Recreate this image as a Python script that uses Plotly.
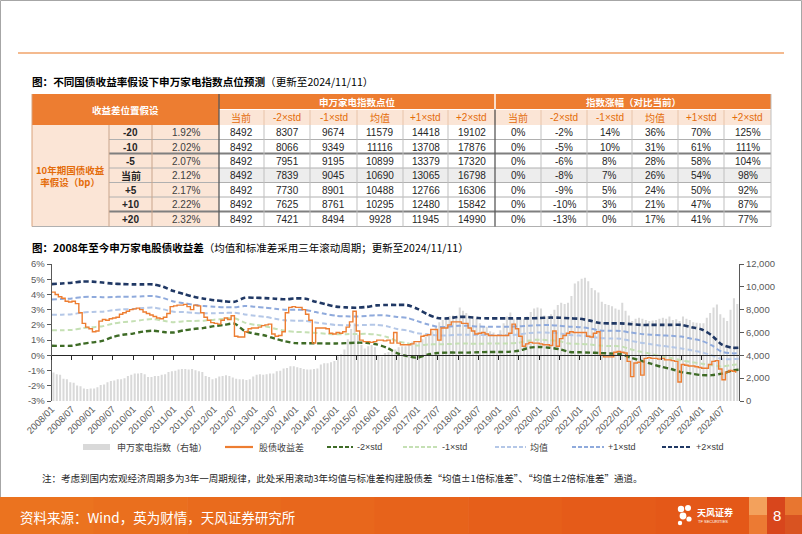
import plotly.graph_objects as go
import pandas as pd

W, H = 802, 534
def px(x): return x / W
def py(y): return 1 - y / H

FONT = "Liberation Sans, Noto Sans CJK SC, sans-serif"
CJK = "Noto Sans CJK SC, sans-serif"

# ---------------- table data ----------------
header_left = "收益差位置假设"
header_mid = "申万家电指数点位"
header_right = "指数涨幅（对比当前）"
row_group_label = "10年期国债收益<br>率假设（bp）"
bp_labels = ["-20", "-10", "-5", "当前", "+5", "+10", "+20"]
yield_labels = ["1.92%", "2.02%", "2.07%", "2.12%", "2.17%", "2.22%", "2.32%"]
col_labels = ["当前", "-2×std", "-1×std", "均值", "+1×std", "+2×std"]
index_points = [
    [8492, 8307, 9674, 11579, 14418, 19102],
    [8492, 8066, 9349, 11116, 13708, 17876],
    [8492, 7951, 9195, 10899, 13379, 17320],
    [8492, 7839, 9045, 10690, 13065, 16798],
    [8492, 7730, 8901, 10488, 12766, 16306],
    [8492, 7625, 8761, 10295, 12480, 15842],
    [8492, 7421, 8494, 9928, 11945, 14990],
]
index_change = [
    ["0%", "-2%", "14%", "36%", "70%", "125%"],
    ["0%", "-5%", "10%", "31%", "61%", "111%"],
    ["0%", "-6%", "8%", "28%", "58%", "104%"],
    ["0%", "-8%", "7%", "26%", "54%", "98%"],
    ["0%", "-9%", "5%", "24%", "50%", "92%"],
    ["0%", "-10%", "3%", "21%", "47%", "87%"],
    ["0%", "-13%", "0%", "17%", "41%", "77%"],
]

# ---------------- chart data ----------------
months = pd.date_range("2008-01-01", "2024-11-01", freq="MS").strftime("%Y-%m").tolist()

spread_2008 = [4.15, 4.0, 3.85, 3.75, 3.55, 3.5, 3.55, 3.4, 2.8, 2.1, 1.85, 1.75]
spread_2009 = [1.55, 1.6, 2.25, 2.35, 2.3, 2.4, 2.45, 2.5, 2.7, 2.8, 2.9, 3.0]
spread_2010 = [3.05, 3.1, 3.0, 2.85, 2.75, 2.65, 2.55, 2.45, 2.4, 2.5, 2.75, 3.2]
spread_2011 = [3.25, 3.3, 3.3, 3.35, 3.2, 3.0, 3.3, 3.25, 2.8, 2.5, 2.3, 2.15]
spread_2012 = [2.1, 2.05, 2.3, 2.45, 2.35, 2.6, 1.25, 1.2, 1.2, 1.55, 1.75, 1.8]
spread_2013 = [1.8, 1.85, 1.95, 2.0, 2.05, 1.4, 1.25, 1.3, 1.55, 2.8, 3.15, 3.2]
spread_2014 = [3.15, 3.15, 3.0, 2.7, 2.3, 0.8, 1.8, 1.8, 1.8, 1.75, 1.45, 1.4]
spread_2015 = [1.5, 1.45, 1.55, 1.85, 2.2, 2.9, 1.6, 1.0, 0.9, 0.9, 0.85, 0.9]
spread_2016 = [1.0, 1.0, 0.95, 1.0, 0.8, 1.5, 0.8, 0.7, 0.7, 0.7, 0.75, 0.9]
spread_2017 = [0.9, 1.25, 1.3, 1.35, 1.7, 1.7, 1.0, 1.8, 1.8, 2.0, 2.2, 2.2]
spread_2018 = [2.2, 2.1, 2.1, 1.8, 1.6, 1.4, 1.45, 1.5, 1.4, 1.3, 1.3, 1.3]
spread_2019 = [1.3, 1.3, 1.3, 1.45, 2.05, 1.75, 1.25, 0.6, 0.75, 0.85, 0.8, 0.8]
spread_2020 = [0.75, 0.7, 0.7, 0.65, 1.6, 0.6, 1.1, 1.3, 1.45, 1.55, 1.5, 1.5]
spread_2021 = [1.5, 1.5, 1.25, 1.2, 1.45, 1.55, 0.0, -0.1, -0.1, -0.1, 0.2, 0.25]
spread_2022 = [0.2, 0.15, -0.4, -1.4, -0.5, -0.45, -1.3, -0.2, -0.15, -0.2, -0.2, -0.25]
spread_2023 = [-0.2, -0.3, -0.3, -0.35, -0.4, -1.75, -0.6, -0.65, -0.7, -0.7, -0.75, -0.8]
spread_2024 = [-0.85, -0.85, -0.6, -0.4, -0.35, -0.9, -1.6, -1.1, -1.0, -1.05, -1.15]
spread = (spread_2008 + spread_2009 + spread_2010 + spread_2011 + spread_2012 + spread_2013
          + spread_2014 + spread_2015 + spread_2016 + spread_2017 + spread_2018 + spread_2019
          + spread_2020 + spread_2021 + spread_2022 + spread_2023 + spread_2024)

index_2008 = [2500, 2350, 2300, 1950, 1900, 1650, 1600, 1350, 1300, 1100, 1050, 1100]
index_2009 = [1100, 1200, 1400, 1450, 1650, 1750, 1800, 1900, 1900, 2000, 2200, 2300]
index_2010 = [2400, 2400, 2450, 2350, 2100, 2100, 2200, 2200, 2300, 2350, 2550, 2600]
index_2011 = [2650, 2750, 2800, 2800, 2750, 2800, 2700, 2600, 2550, 2200, 2100, 1900]
index_2012 = [2000, 2150, 2200, 2250, 2200, 2050, 1950, 1900, 1900, 1850, 1900, 2150]
index_2013 = [2300, 2350, 2300, 2350, 2400, 2400, 2600, 2650, 2850, 2900, 3050, 3050]
index_2014 = [2950, 2900, 2800, 2750, 2750, 2800, 2850, 3200, 3300, 3300, 3400, 3500]
index_2015 = [3900, 4100, 4500, 5400, 6300, 6800, 5800, 4900, 4600, 4800, 4900, 4700]
index_2016 = [4000, 3900, 4200, 4300, 4400, 4500, 4700, 4800, 4800, 5000, 5200, 5100]
index_2017 = [5200, 5400, 5600, 5800, 6100, 6500, 6900, 7100, 7200, 7450, 7500, 7400]
index_2018 = [8200, 7900, 7700, 7450, 7400, 7200, 6800, 6500, 6500, 6100, 6000, 5700]
index_2019 = [6200, 6800, 7400, 7750, 7200, 7300, 7300, 7200, 7400, 7800, 8100, 8200]
index_2020 = [8100, 7500, 7450, 7600, 8000, 8400, 8600, 8500, 8600, 9200, 10300, 10500]
index_2021 = [10700, 10800, 10500, 9900, 9700, 9500, 8700, 8500, 8400, 8300, 8100, 8000]
index_2022 = [8600, 7900, 7500, 7000, 7200, 7300, 7200, 7100, 7000, 7050, 7100, 7200]
index_2023 = [7300, 7200, 7400, 7100, 7150, 7000, 7400, 7200, 7100, 6900, 6850, 6800]
index_2024 = [6800, 7300, 7700, 8200, 8450, 7600, 7300, 7000, 8000, 9000, 8500]
index_level = (index_2008 + index_2009 + index_2010 + index_2011 + index_2012 + index_2013
               + index_2014 + index_2015 + index_2016 + index_2017 + index_2018 + index_2019
               + index_2020 + index_2021 + index_2022 + index_2023 + index_2024)

# rolling 3y bands, read quarterly
band_dates = pd.date_range("2008-01-01", periods=68, freq="3MS").strftime("%Y-%m-%d").tolist() + ["2024-11-28"]
band_p2 = [4.68, 4.72, 4.77, 4.85, 4.84, 4.78, 4.71, 4.68, 4.66, 4.66, 4.66, 4.50, 4.22, 4.03, 3.85, 3.72,
           3.62, 3.55, 3.52, 3.78, 3.78, 3.76, 3.72, 3.68, 3.74, 3.72, 3.52, 3.35, 3.20, 3.15, 3.13, 3.18,
           3.28, 3.31, 3.31, 3.30, 3.05, 2.70, 2.45, 2.43, 2.52, 2.52, 2.45, 2.43, 2.43, 2.43, 2.43, 2.43,
           2.45, 2.48, 2.47, 2.43, 2.40, 2.28, 2.12, 2.10, 2.10, 2.05, 2.00, 2.00, 2.00, 2.00, 2.00, 1.85,
           1.70, 1.30, 0.70, 0.50, 0.50]
band_p1 = [3.67, 3.70, 3.74, 3.83, 3.84, 3.82, 3.83, 3.85, 3.85, 3.88, 3.90, 3.76, 3.54, 3.43, 3.32, 3.24,
           3.19, 3.16, 3.16, 3.24, 3.19, 3.14, 3.06, 2.99, 3.00, 2.99, 2.84, 2.71, 2.60, 2.56, 2.55, 2.59,
           2.64, 2.61, 2.52, 2.46, 2.25, 2.04, 1.88, 1.87, 1.94, 1.94, 1.89, 1.88, 1.88, 1.88, 1.90, 1.95,
           1.98, 1.99, 1.95, 1.88, 1.85, 1.76, 1.63, 1.61, 1.60, 1.50, 1.41, 1.36, 1.31, 1.28, 1.23, 1.09,
           0.95, 0.65, 0.23, 0.13, 0.14]
band_mean = [2.66, 2.67, 2.70, 2.81, 2.85, 2.87, 2.96, 3.02, 3.05, 3.11, 3.14, 3.02, 2.86, 2.84, 2.79, 2.76,
             2.77, 2.78, 2.80, 2.69, 2.60, 2.53, 2.41, 2.30, 2.27, 2.26, 2.16, 2.07, 1.99, 1.98, 1.98, 2.00,
             2.00, 1.91, 1.73, 1.63, 1.45, 1.38, 1.30, 1.31, 1.35, 1.35, 1.33, 1.33, 1.33, 1.33, 1.37, 1.47,
             1.50, 1.49, 1.44, 1.33, 1.30, 1.23, 1.14, 1.11, 1.09, 0.95, 0.83, 0.73, 0.63, 0.55, 0.45, 0.33,
             0.20, 0.00, -0.25, -0.25, -0.23]
band_m1 = [1.64, 1.65, 1.67, 1.78, 1.85, 1.91, 2.08, 2.18, 2.24, 2.33, 2.38, 2.27, 2.18, 2.24, 2.26, 2.28,
           2.34, 2.39, 2.44, 2.15, 2.01, 1.92, 1.75, 1.61, 1.54, 1.52, 1.47, 1.42, 1.38, 1.39, 1.40, 1.41,
           1.36, 1.20, 0.94, 0.79, 0.65, 0.71, 0.73, 0.74, 0.77, 0.77, 0.76, 0.77, 0.77, 0.78, 0.83, 0.98,
           1.03, 0.99, 0.92, 0.77, 0.75, 0.71, 0.64, 0.61, 0.59, 0.40, 0.24, 0.09, -0.06, -0.18, -0.33, -0.44,
           -0.55, -0.65, -0.73, -0.63, -0.59]
band_m2 = [0.63, 0.62, 0.63, 0.76, 0.85, 0.95, 1.20, 1.35, 1.43, 1.56, 1.62, 1.53, 1.50, 1.64, 1.73, 1.80,
           1.92, 2.00, 2.08, 1.60, 1.42, 1.30, 1.10, 0.92, 0.80, 0.79, 0.79, 0.78, 0.78, 0.80, 0.83, 0.82,
           0.72, 0.50, 0.15, -0.05, -0.15, 0.05, 0.15, 0.18, 0.18, 0.18, 0.20, 0.22, 0.22, 0.23, 0.30, 0.50,
           0.55, 0.50, 0.40, 0.22, 0.20, 0.18, 0.15, 0.12, 0.08, -0.15, -0.35, -0.55, -0.75, -0.90, -1.10, -1.20,
           -1.30, -1.30, -1.20, -1.00, -0.95]

x_tick_labels = ["2008/01", "2008/07", "2009/01", "2009/07", "2010/01", "2010/07", "2011/01", "2011/07",
                 "2012/01", "2012/07", "2013/01", "2013/07", "2014/01", "2014/07", "2015/01", "2015/07",
                 "2016/01", "2016/07", "2017/01", "2017/07", "2018/01", "2018/07", "2019/01", "2019/07",
                 "2020/01", "2020/07", "2021/01", "2021/07", "2022/01", "2022/07", "2023/01", "2023/07",
                 "2024/01", "2024/07"]
x_tick_vals = [lab.replace("/", "-") + "-01" for lab in x_tick_labels]
y_left_vals = [-3, -2, -1, 0, 1, 2, 3, 4, 5, 6]
y_left_labels = ["-3%", "-2%", "-1%", "0%", "1%", "2%", "3%", "4%", "5%", "6%"]
y_right_vals = [0, 2000, 4000, 6000, 8000, 10000, 12000]
y_right_labels = ["0", "2,000", "4,000", "6,000", "8,000", "10,000", "12,000"]

series_names = ["申万家电指数（右轴）", "股债收益差", "-2×std", "-1×std", "均值", "+1×std", "+2×std"]

# ---------------- styles ----------------
C_ORANGE = "#ED7D31"
C_BAR = "#D9D9D9"
C_M2 = "#3E6B26"
C_M1 = "#C5E0B4"
C_MEAN = "#B4C7E7"
C_P1 = "#8FAADC"
C_P2 = "#203864"
DASH = "5px,3px"

fig = go.Figure()
fig.add_trace(go.Bar(x=months, y=index_level, name=series_names[0], marker=dict(color=C_BAR, line=dict(width=0)),
                     xperiod="M1", xperiodalignment="middle", xaxis="x", yaxis="y", hoverinfo="x+y"))
band_specs = [(band_m2, C_M2, 2.4, series_names[2]), (band_m1, C_M1, 2.0, series_names[3]),
              (band_mean, C_MEAN, 2.0, series_names[4]), (band_p1, C_P1, 2.0, series_names[5]),
              (band_p2, C_P2, 2.6, series_names[6])]
for vals, col, w, nm in band_specs:
    fig.add_trace(go.Scatter(x=band_dates, y=vals, name=nm, mode="lines",
                             line=dict(color=col, width=w, dash=DASH, shape="spline", smoothing=0.8),
                             xaxis="x", yaxis="y2"))
fig.add_trace(go.Scatter(x=months, y=spread, name=series_names[1], mode="lines",
                         line=dict(color=C_ORANGE, width=1.4, shape="hv"),
                         xperiod="M1", xperiodalignment="start", xaxis="x", yaxis="y2"))
# carrier for the zero-line axis
fig.add_trace(go.Scatter(x=[months[0]], y=[None], mode="lines", xaxis="x3", yaxis="y2",
                         showlegend=False, hoverinfo="skip"))

# ---------------- layout geometry ----------------
PX0, PX1 = 51.7, 739.0
PY_TOP, PY_BOT = 264.0, 401.0
ydom = [py(PY_BOT), py(PY_TOP)]
zero_pos = ydom[0] + (0 - (-3)) / 9 * (ydom[1] - ydom[0])
xrange_ = ["2008-01-01", "2024-12-01"]
tickfont = dict(family=FONT, size=9.5, color="#595959")

shapes = []
annotations = []

def rect(x0, y0, x1, y1, fill, lc=None, lw=0):
    shapes.append(dict(type="rect", xref="paper", yref="paper", x0=px(x0), x1=px(x1), y0=py(y1), y1=py(y0),
                       fillcolor=fill, line=dict(width=lw, color=lc or fill)))

def line(x0, y0, x1, y1, color, w=1, dash=None):
    d = dict(color=color, width=w)
    if dash:
        d["dash"] = dash
    shapes.append(dict(type="line", xref="paper", yref="paper", x0=px(x0), x1=px(x1), y0=py(y0), y1=py(y1), line=d))

def text(x, y, s, size=10, color="#262626", anchor="center", family=FONT):
    annotations.append(dict(xref="paper", yref="paper", x=px(x), y=py(y), text=s, showarrow=False,
                            xanchor=anchor, yanchor="middle", font=dict(size=size, color=color, family=family)))

# frame + top orange rule
rect(0.5, 0.5, 801.5, 533.5, "rgba(0,0,0,0)", "#A6A6A6", 1)
line(18, 53, 784, 53, "#F0A36A", 1.5)

# titles
text(30, 81, "<b>图：不同国债收益率假设下申万家电指数点位预测</b>（更新至2024/11/11）", 10.6, "#000000", "left", CJK)
text(30, 247, "<b>图：2008年至今申万家电股债收益差</b>（均值和标准差采用三年滚动周期；更新至2024/11/11）",
     10.5, "#000000", "left", CJK)

# ---------------- table ----------------
col_x = [32, 109, 152, 219, 264, 310, 357, 403, 448, 495, 541, 587, 632, 678, 724, 771]
row_y = [125, 139.5, 153.5, 168, 182.5, 197, 211.5, 226.5]
H_TOP, H_MID = 94, 109.5
T_OR = "#ED7D31"
T_PEACH = "#FBE5D6"
T_TXT_OR = "#E46C0A"

rect(32, H_TOP, 219, 125, T_OR)
rect(219, H_TOP, 495, H_MID, T_OR)
rect(495, H_TOP, 771, H_MID, T_OR)
for i in range(3, 15):
    rect(col_x[i], H_MID, col_x[i + 1], 125, T_PEACH)
rect(32, 125, 109, row_y[-1], T_PEACH)
rect(109, 125, 219, row_y[-1], T_PEACH)
rect(219, row_y[3], 771, row_y[4], "#EDEDED")
# header separators
line(495, H_TOP, 495, H_MID, "#FFFFFF", 1.5)
for i in range(4, 15):
    line(col_x[i], H_MID, col_x[i], 125, "#E8C4AA", 1)
line(219, H_MID, 771, H_MID, "#FFFFFF", 1)
# body grid
for j, yv in enumerate(row_y[1:]):
    thick = j in (1, 5)
    line(109, yv, 771, yv, "#7F7F7F" if thick else "#B0B0B0", 1.8 if thick else 1)
line(32, row_y[-1], 109, row_y[-1], "#B0B0B0", 1)
for i in range(1, 15):
    xv = col_x[i]
    if xv in (219, 495):
        line(xv, 109.5 if xv == 495 else H_TOP, xv, row_y[-1], "#595959", 1.3)
    elif xv == 109 or xv == 152:
        line(xv, 125, xv, row_y[-1], "#C9A58C", 1)
    else:
        line(xv, 125, xv, row_y[-1], "#BFBFBF", 1)
line(771, H_TOP, 771, row_y[-1], "#BFBFBF", 1)
line(32, H_TOP, 32, row_y[-1], "#D9A27A", 1)

text((32 + 219) / 2, (H_TOP + 125) / 2, "<b>" + header_left + "</b>", 9.5, "#FFFFFF", "center", CJK)
text((219 + 495) / 2, (H_TOP + H_MID) / 2, "<b>" + header_mid + "</b>", 9.5, "#FFFFFF", "center", CJK)
text((495 + 771) / 2, (H_TOP + H_MID) / 2, "<b>" + header_right + "</b>", 9.5, "#FFFFFF", "center", CJK)
for k in range(12):
    lab = col_labels[k % 6]
    text((col_x[3 + k] + col_x[4 + k]) / 2, (H_MID + 125) / 2 + 0.5, lab, 10, T_TXT_OR)
text((32 + 109) / 2, (125 + row_y[-1]) / 2, "<b>" + row_group_label + "</b>", 9.5, T_TXT_OR, "center", CJK)
for r in range(7):
    yc = (row_y[r] + row_y[r + 1]) / 2 + 0.5
    text((109 + 152) / 2, yc, "<b>" + bp_labels[r] + "</b>", 10, "#262626")
    text((152 + 219) / 2, yc, yield_labels[r], 10, "#404040")
    for c in range(6):
        text((col_x[3 + c] + col_x[4 + c]) / 2, yc, str(index_points[r][c]), 10, "#262626")
        text((col_x[9 + c] + col_x[10 + c]) / 2, yc, index_change[r][c], 10, "#262626")

# ---------------- legend (manual) ----------------
LY = 447
rect(83, LY - 3, 110, LY + 3, C_BAR)
text(115, LY, series_names[0], 9, "#404040", "left", CJK)
line(225, LY, 253, LY, C_ORANGE, 2.2)
text(257, LY, series_names[1], 9, "#404040", "left", CJK)
leg_lines = [(327, 353, C_M2, 355, series_names[2]), (403, 438, C_M1, 440, series_names[3]),
             (495, 526, C_MEAN, 528, series_names[4]), (572, 604, C_P1, 606, series_names[5]),
             (662, 692, C_P2, 694, series_names[6])]
for x0, x1, col, tx, nm in leg_lines:
    line(x0, LY, x1, LY, col, 2.2, "4px,2px")
    text(tx, LY, nm, 9, "#404040", "left", FONT)

# note
text(40, 478, "注：考虑到国内宏观经济周期多为3年一周期规律，此处采用滚动3年均值与标准差构建股债差“均值±1倍标准差”、“均值±2倍标准差”通道。",
     9.5, "#262626", "left", CJK)

# ---------------- footer ----------------
foot_cols = ["#EB731F", "#EA6F1E", "#E96B1D", "#E8671C", "#E7631B", "#E65F1A", "#E55B19", "#E45818"]
seg = 749 / len(foot_cols)
for i, c in enumerate(foot_cols):
    rect(i * seg, 497, (i + 1) * seg + 0.6, 534, c)
rect(749, 497, 767, 515, "#F3A15C")
rect(749, 515, 767, 534, "#EC7A33")
rect(767, 497, 785, 534, "#D8461C")
rect(785, 497, 802, 515, "#E87630")
rect(785, 515, 802, 534, "#D95321")
text(18, 517, "资料来源：Wind，英为财情，天风证券研究所", 13.5, "#FFFFFF", "left", CJK)
text(777, 515, "8", 15, "#FFFFFF", "center", FONT)
# logo
for cx, cy, rr in [(681, 509, 3.2), (688, 508, 3.0), (683, 516, 3.4), (689, 519, 2.6), (680, 523, 2.2)]:
    shapes.append(dict(type="circle", xref="paper", yref="paper", x0=px(cx - rr), x1=px(cx + rr),
                       y0=py(cy + rr), y1=py(cy - rr), fillcolor="#FFFFFF", line=dict(width=0)))
text(695, 512, "<b>天风证券</b>", 9, "#FFFFFF", "left", CJK)
text(696, 521, "TF SECURITIES", 4, "#FFFFFF", "left", FONT)

fig.update_layout(
    width=W, height=H, margin=dict(l=0, r=0, t=0, b=0),
    paper_bgcolor="#FFFFFF", plot_bgcolor="rgba(0,0,0,0)",
    showlegend=False, bargap=0.38,
    font=dict(family=FONT, size=10, color="#404040"),
    xaxis=dict(domain=[px(PX0), px(PX1)], range=xrange_, type="date", anchor="y",
               tickmode="array", tickvals=x_tick_vals, ticktext=x_tick_labels, tickangle=-45,
               tickfont=tickfont, showgrid=False, showline=False, ticks="", zeroline=False, automargin=False),
    xaxis3=dict(overlaying="x", anchor="free", position=zero_pos, range=xrange_, type="date",
                tickmode="array", tickvals=x_tick_vals, showticklabels=False, ticks="outside", ticklen=4,
                tickcolor="#262626", showline=True, linecolor="#262626", linewidth=1.3, showgrid=False,
                zeroline=False, automargin=False),
    yaxis=dict(domain=ydom, range=[0, 12000], side="right", anchor="x", tickmode="array",
               tickvals=y_right_vals, ticktext=y_right_labels, tickfont=tickfont, showgrid=False,
               showline=True, linecolor="#595959", linewidth=1, ticks="outside", ticklen=4,
               tickcolor="#595959", zeroline=False, automargin=False),
    yaxis2=dict(overlaying="y", range=[-3, 6], side="left", anchor="x", tickmode="array",
                tickvals=y_left_vals, ticktext=y_left_labels, tickfont=tickfont, showgrid=False,
                showline=True, linecolor="#595959", linewidth=1, ticks="outside", ticklen=4,
                tickcolor="#595959", zeroline=False, automargin=False),
    shapes=shapes, annotations=annotations,
)

fig.write_html("out.html")
